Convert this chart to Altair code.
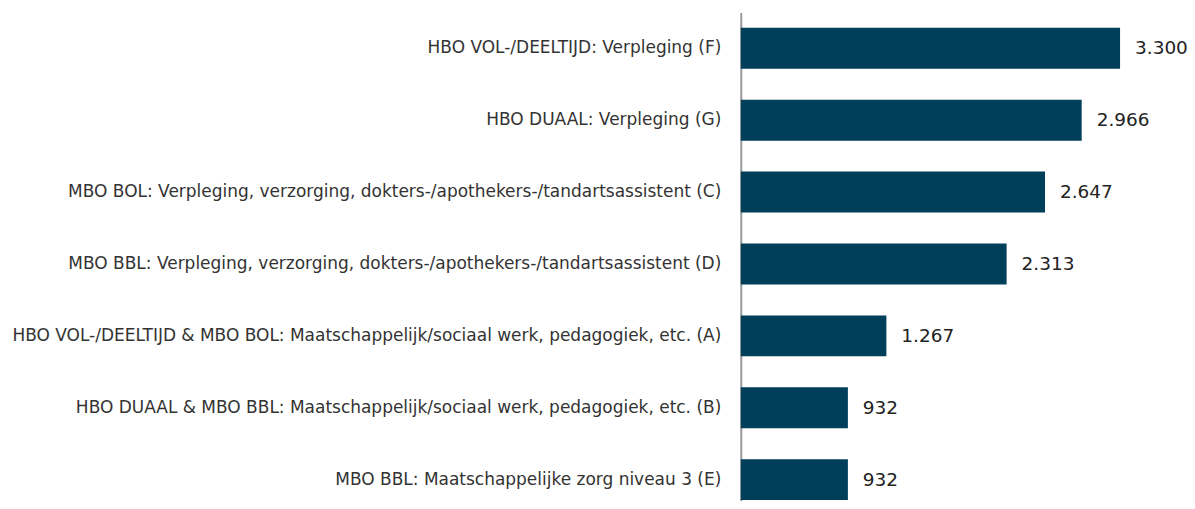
import altair as alt
import pandas as pd

categories = [
    "HBO VOL-/DEELTIJD: Verpleging (F)",
    "HBO DUAAL: Verpleging (G)",
    "MBO BOL: Verpleging, verzorging, dokters-/apothekers-/tandartsassistent (C)",
    "MBO BBL: Verpleging, verzorging, dokters-/apothekers-/tandartsassistent (D)",
    "HBO VOL-/DEELTIJD & MBO BOL: Maatschappelijk/sociaal werk, pedagogiek, etc. (A)",
    "HBO DUAAL & MBO BBL: Maatschappelijk/sociaal werk, pedagogiek, etc. (B)",
    "MBO BBL: Maatschappelijke zorg niveau 3 (E)",
]
values = [3300, 2966, 2647, 2313, 1267, 932, 932]

df = pd.DataFrame({
    "cat": categories,
    "val": values,
    "lab": [f"{v:,}".replace(",", ".") for v in values],
})

FONT = "DejaVu Sans"
y_scale = alt.Scale(paddingInner=0.43, paddingOuter=0.215, range=[0, 504])
y_enc = alt.Y("cat:N", sort=categories, scale=y_scale,
              axis=alt.Axis(title=None, ticks=False, domain=True,
                            domainColor="#9a9a9a", domainWidth=2,
                            labelFont=FONT, labelFontSize=17,
                            labelColor="#333333", labelPadding=20,
                            labelLimit=1000))
x_enc = alt.X("val:Q", scale=alt.Scale(domain=[0, 3700], nice=False),
              axis=None)

bars = alt.Chart(df).mark_bar(color="#003f5a").encode(x=x_enc, y=y_enc)
text = alt.Chart(df).mark_text(align="left", baseline="middle", dx=15,
                               font=FONT, fontSize=18.5, color="#222222").encode(
    x=alt.X("val:Q"), y=alt.Y("cat:N", sort=categories), text="lab:N")

chart = alt.layer(bars, text).properties(
    width=426, height=489,
    autosize=alt.AutoSizeParams(type="none"),
    padding={"left": 734, "top": 4, "right": 21, "bottom": 0},
).configure_view(stroke=None)

chart.save("out.html", embed_options={"renderer": "svg", "actions": False})
